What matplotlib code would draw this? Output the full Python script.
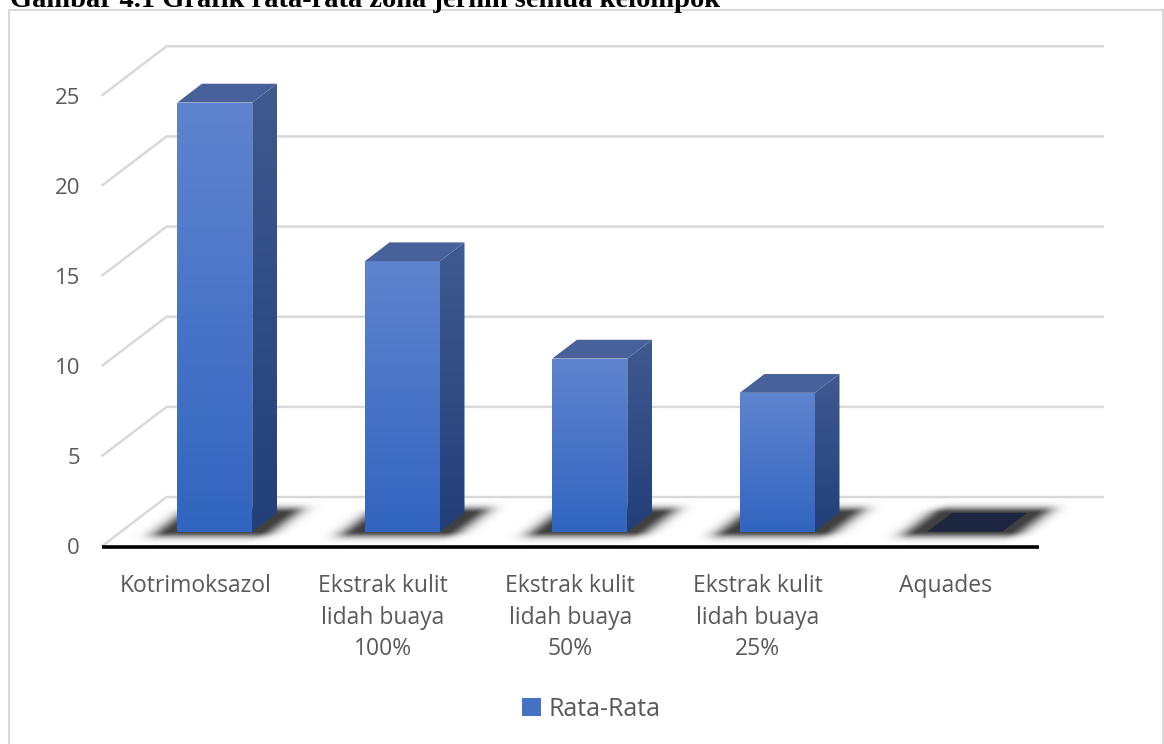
import numpy as np
import matplotlib
matplotlib.use("Agg")
import matplotlib.pyplot as plt
from matplotlib.patches import Polygon, Rectangle, Patch
from matplotlib.colors import to_rgb

# Data
categories = ["Kotrimoksazol",
              "Ekstrak kulit\nlidah buaya\n100%",
              "Ekstrak kulit\nlidah buaya\n50%",
              "Ekstrak kulit\nlidah buaya\n25%",
              "Aquades"]
rata_rata = [23.8, 15.0, 9.6, 7.7, 0.0]
y_ticks = [0, 5, 10, 15, 20, 25]
series_name = "Rata-Rata"
title = "Gambar 4.1 Grafik rata-rata zona jernih semua kelompok"

plt.rcParams['font.family'] = ['Open Sans', 'DejaVu Sans']

W, H = 1164, 744
fig = plt.figure(figsize=(W / 100, H / 100), dpi=100)

# fake 3D: floor depth offset in data units, and pixel scale of the front plane
DX, DY = 0.347, 2.745
PX_X, PX_Y = 187.5, 18.03
x0_px, y0_px = 101.5, 546.5

n = len(categories)
xmax = n + DX
ymax = y_ticks[-1] + DY
ax = fig.add_axes([x0_px / W, 1 - y0_px / H, xmax * PX_X / W, ymax * PX_Y / H])
ax.set_facecolor('none')
for s in ax.spines.values():
    s.set_visible(False)


def pt(u, d, h):
    # point at category position u, depth d (0 front, 1 back), height h
    return (u + d * DX, h + d * DY)


def grad_fill(pts, c_top, c_bot, z):
    poly = Polygon(pts, closed=True, transform=ax.transData, facecolor='none', edgecolor='none')
    xs = [p[0] for p in pts]
    ys = [p[1] for p in pts]
    t = np.linspace(0, 1, 64)[:, None, None]
    img = np.array(to_rgb(c_bot))[None, None, :] * (1 - t) + np.array(to_rgb(c_top))[None, None, :] * t
    im = ax.imshow(img, extent=[min(xs), max(xs), min(ys), max(ys)], origin='lower',
                   aspect='auto', interpolation='bilinear', zorder=z)
    im.set_clip_path(poly)


# gridlines: front diagonal + back wall line
for v in y_ticks:
    ax.plot([0, DX, n + DX], [v, v + DY, v + DY], color='#d9d9d9', lw=1.8, zorder=1,
            solid_capstyle='butt', clip_on=False)

# soft shadows on the floor
gx = np.linspace(0, xmax, 1200)
gy = np.linspace(-0.6, DY + 0.3, 200)
X, Y = np.meshgrid(gx, gy)
D = Y / DY
U = X - D * DX
alpha = np.zeros_like(X)
for i in range(n):
    ul, ur = i + 0.26, i + 0.74
    dl, dr = 0.3, 0.66
    du = np.maximum(np.maximum(ul - U, U - ur), 0) / 0.06
    dd = np.maximum(np.maximum(dl - D, D - dr), 0) / 0.09
    alpha = np.maximum(alpha, 0.75 * np.exp(-0.5 * (du ** 2 + dd ** 2)))
shadow = np.zeros(X.shape + (4,))
shadow[..., 3] = alpha
ax.imshow(shadow, extent=[0, xmax, gy[0], gy[-1]], origin='lower', aspect='auto',
          interpolation='bilinear', zorder=2)

# bars
d0, d1 = 0.3, 0.68
for i, v in enumerate(rata_rata):
    l, r = i + 0.3, i + 0.7
    if v > 0:
        front = [pt(l, d0, 0), pt(r, d0, 0), pt(r, d0, v), pt(l, d0, v)]
        side = [pt(r, d0, 0), pt(r, d1, 0), pt(r, d1, v), pt(r, d0, v)]
        grad_fill(front, '#5f84cf', '#3265c0', 4)
        grad_fill(side, '#3f5a90', '#223f7a', 4)
        top_color = '#48619a'
    else:
        top_color = '#1c2640'
    top = [pt(l, d0, v), pt(r, d0, v), pt(r, d1, v), pt(l, d1, v)]
    ax.add_patch(Polygon(top, closed=True, facecolor=top_color, edgecolor='none', zorder=4))

# base line
ax.plot([0, n], [0, 0], color='black', lw=2.6, zorder=5, clip_on=False, solid_capstyle='butt')

ax.set_xlim(0, xmax)
ax.set_ylim(0, ymax)
ax.set_yticks(y_ticks)
ax.set_xticks([i + 0.5 for i in range(n)])
ax.set_xticklabels(categories, linespacing=1.42)
ax.tick_params(axis='both', length=0, labelsize=16.5, labelcolor='#595959')
ax.tick_params(axis='y', pad=15.5, labelsize=16)
ax.tick_params(axis='x', pad=20)

fig.legend(handles=[Patch(facecolor='#4472c4', edgecolor='none', label=series_name)],
           loc='center', bbox_to_anchor=(591 / W, 1 - 709 / H), frameon=False, fontsize=18,
           handlelength=0.75, handleheight=0.75, handletextpad=0.3, labelcolor='#595959')

fig.text(10 / W, 1 - 7 / H, title, family='Liberation Serif', weight='bold', fontsize=20.5,
         va='baseline', ha='left')

fig.add_artist(Rectangle((9 / W, -0.01), (1163 - 9) / W, 1 - 10 / H + 0.01,
                         transform=fig.transFigure, fill=False, edgecolor='#d9d9d9', lw=1.5))

fig.savefig('out.png', dpi=100)
